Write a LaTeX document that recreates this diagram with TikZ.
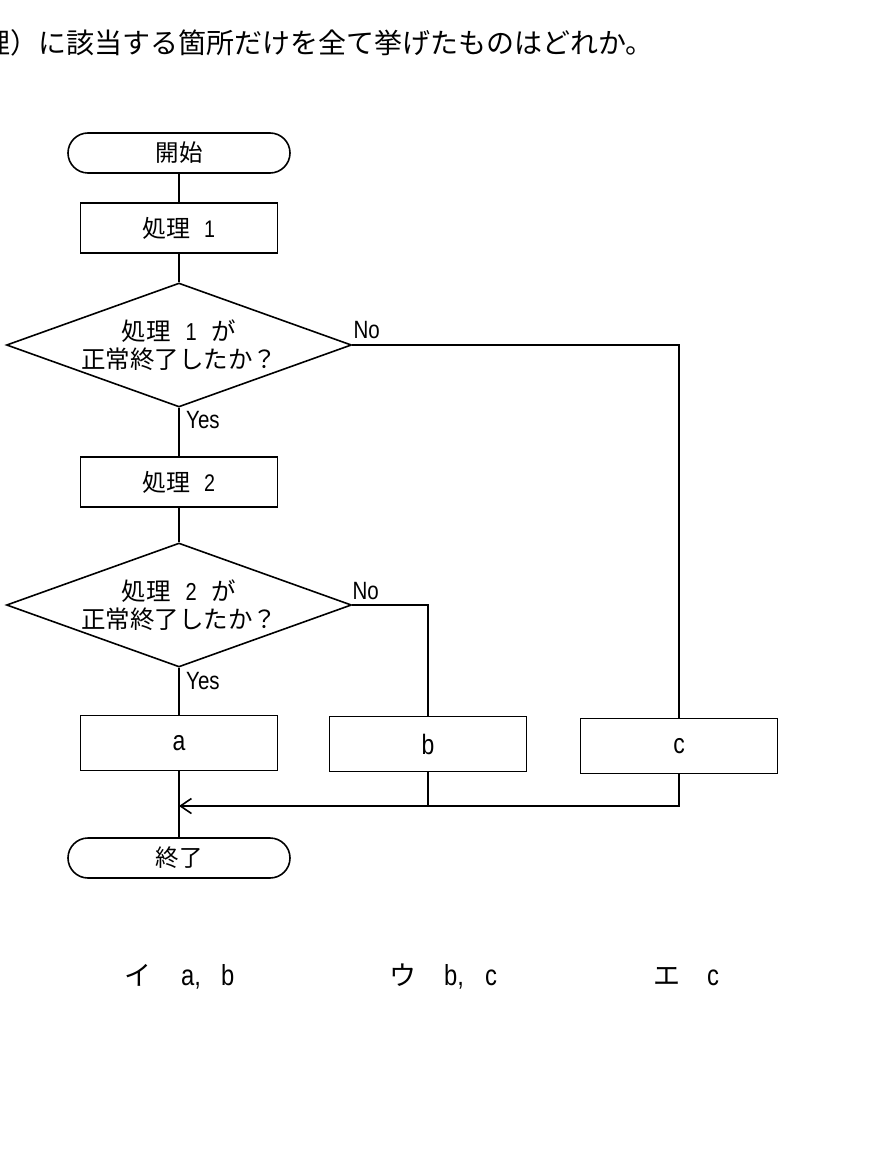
\documentclass[tikz,border=0pt]{standalone}
\usepackage{fontspec}
\setmainfont{Noto Sans CJK JP}
\newfontfamily\lat[FakeStretch=0.82]{Liberation Sans}
\usetikzlibrary{shapes.geometric,shapes.misc,arrows.meta}
\begin{document}
\begin{tikzpicture}[x=1pt,y=-1pt,
  every node/.style={inner sep=0pt},
  term/.style={draw, line width=1.6pt, rounded rectangle, minimum width=222pt, minimum height=40pt, font=\fontsize{23.5}{26}\selectfont},
  proc/.style={draw, line width=1.6pt, rectangle, minimum width=197pt, minimum height=50pt, font=\fontsize{24}{26}\selectfont},
  abox/.style={draw, line width=1.6pt, rectangle, minimum width=197pt, minimum height=55pt, font=\lat\fontsize{28}{28}\selectfont},
  dec/.style={draw, line width=1.6pt, diamond, aspect=2.78, minimum width=345pt, minimum height=124pt, align=center, font=\fontsize{24.5}{28}\selectfont},
  lbl/.style={anchor=base west, font=\lat\fontsize{25}{25}\selectfont},
  ans/.style={anchor=base west, font=\fontsize{27}{27}\selectfont},
  head/.style={anchor=base west, font=\fontsize{28}{30}\selectfont},
  conn/.style={line width=1.6pt},
]
\useasboundingbox (0,0) rectangle (874,1155);

\node[head] (hd) at (-18,54) {理）に該当する箇所だけを全て挙げたものはどれか。};

\node[term] (start) at (179,153) {開始};
\node[proc] (p1) at (179,228) {処理\hspace{0.55em}{\lat 1}};
\node[dec] (d1) at (179,345) {処理\hspace{0.6em}{\lat 1}\hspace{0.6em}が\\正常終了したか？};
\node[proc] (p2) at (179,482) {処理\hspace{0.55em}{\lat 2}};
\node[dec] (d2) at (179,605) {処理\hspace{0.6em}{\lat 2}\hspace{0.6em}が\\正常終了したか？};
\node[abox] (a) at (179,743) {a};
\node[abox] (b) at (428,744) {b};
\node[abox] (c) at (679,746) {c};
\node[term] (end) at (179,858) {終了};

\node[lbl] (no1) at ([shift={(1,-7)}]d1.east) {No};
\node[lbl] (yes1) at ([shift={(7,21)}]d1.south) {Yes};
\node[lbl] (no2) at ([shift={(0,-6)}]d2.east) {No};
\node[lbl] (yes2) at ([shift={(7,22)}]d2.south) {Yes};

\draw[conn] (start) -- (p1);
\draw[conn] (p1) -- (d1);
\draw[conn] (d1) -- (p2);
\draw[conn] (p2) -- (d2);
\draw[conn] (d2) -- (a);
\draw[conn] (a) -- (end);
\draw[conn] (d1.east) -| (c.north);
\draw[conn] (d2.east) -| (b.north);
\coordinate (m) at (179,806);
\draw[conn] (b.south) -- (b.south |- m);
\draw[conn, -{Straight Barb[length=11pt,width=15pt,line width=1.6pt]}] (c.south) |- (m);

\node[ans] (ai) at (124,985) {イ\hspace{30pt}{\lat\fontsize{29}{29}\selectfont a,\hspace{20pt}b}};
\node[ans] (au) at (389,985) {ウ\hspace{28pt}{\lat\fontsize{29}{29}\selectfont b,\hspace{21pt}c}};
\node[ans] (ae) at (653,985) {エ\hspace{27pt}{\lat\fontsize{29}{29}\selectfont c}};
\end{tikzpicture}
\end{document}
